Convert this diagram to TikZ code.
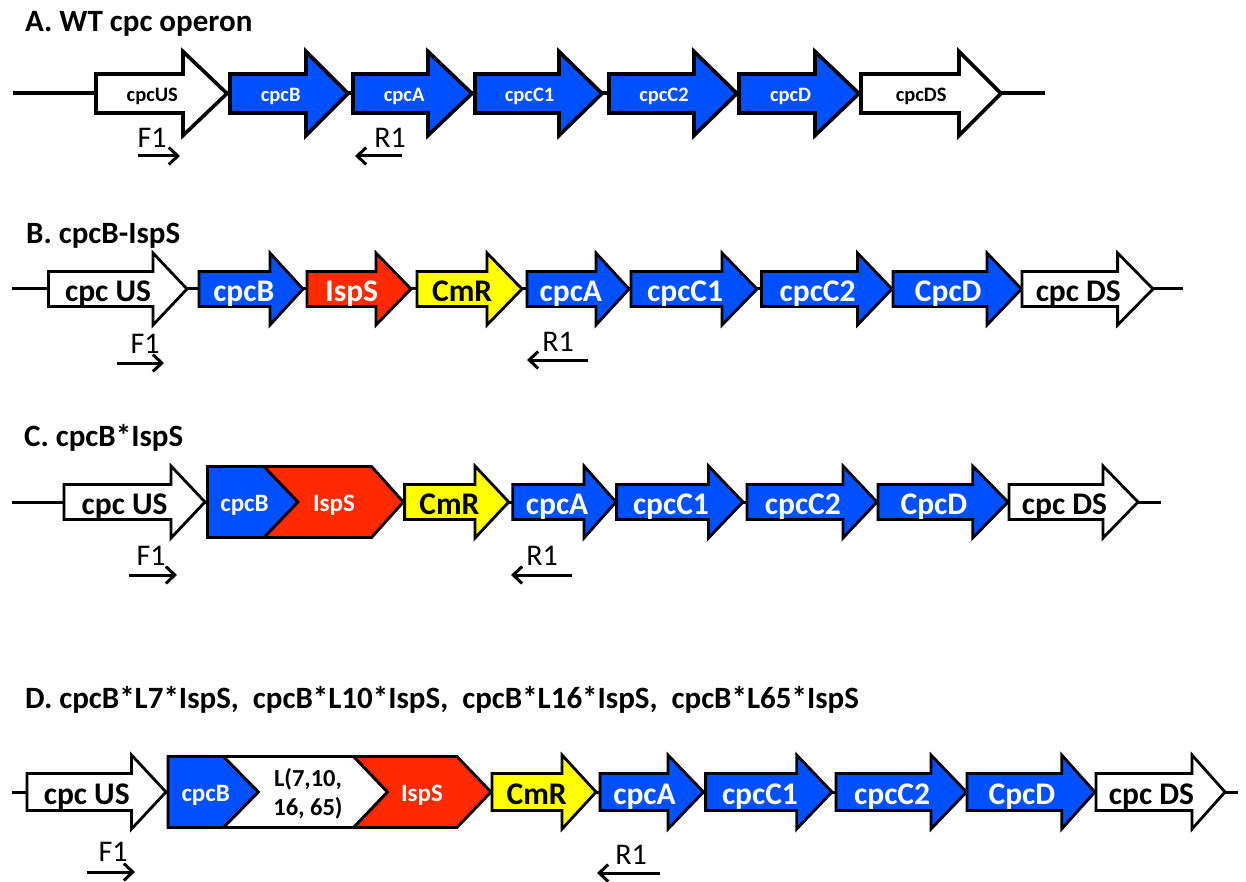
\documentclass[tikz,border=0pt]{standalone}
\usepackage{fontspec}
\setmainfont{Carlito}
\usetikzlibrary{arrows.meta}
\definecolor{gblue}{HTML}{0050FF}
\definecolor{gred}{HTML}{FF2A00}
\definecolor{gyellow}{HTML}{FFFF00}
\tikzset{
  outl/.style={draw=black, line width=2.8pt, line join=miter, miter limit=10},
  wfill/.style={outl, fill=white},
  bfill/.style={outl, fill=gblue},
  rfill/.style={outl, fill=gred},
  yfill/.style={outl, fill=gyellow},
  lab/.style={inner sep=0pt, anchor=base, font=\bfseries\fontsize{31.5}{33}\selectfont},
  labw/.style={lab, text=white},
  labk/.style={lab, text=black},
  slab/.style={inner sep=0pt, anchor=base, font=\bfseries\fontsize{25}{26}\selectfont},
  title/.style={anchor=base west, inner sep=0pt, font=\bfseries\fontsize{31}{33}\selectfont},
  primer/.style={inner sep=0pt, anchor=base, font=\fontsize{30}{32}\selectfont},
  parrow/.style={line width=3pt, -{Straight Barb[length=9pt,width=17pt,line width=3pt]}},
  backbone/.style={line width=3pt},
}
% #1 name, #2 left, #3 head start, #4 tip, #5 centre y, #6 fill style, #7 label style, #8 label
\newcommand\genearrow[8]{%
  \path[#6] (#2,#5-\bh) -- (#3,#5-\bh) -- (#3,#5-\hh) -- (#4,#5) -- (#3,#5+\hh)
     -- (#3,#5+\bh) -- (#2,#5+\bh) -- cycle;
  \node[#7] (#1) at ({(#2+#4)/2-0.07*(#4-#2)},{#5+\bo}) {#8};
}
\begin{document}
\begin{tikzpicture}[x=1pt,y=-1pt]
\useasboundingbox (0,0) rectangle (1246,882);

% ---------------- Row A ----------------
\node[title] (tA) at (25,31.7) {A. WT cpc operon};
\begin{scope}[outl/.append style={line width=3.6pt},
  lab/.append style={font=\bfseries\fontsize{20.5}{22}\selectfont}]
\def\bh{19.5}\def\hh{42}\def\bo{7.7}
\coordinate (a0) at (13,93.5);
\coordinate (a1) at (1045,93.5);
\draw[backbone, line width=4pt] (a0) -- (a1);
\genearrow{aUS}{96}{183}{227}{93.5}{wfill}{labk}{cpcUS}
\genearrow{aB}{230}{306}{348}{93.5}{bfill}{labw}{cpcB}
\genearrow{aA}{353}{428}{472}{93.5}{bfill}{labw}{cpcA}
\genearrow{aC1}{475}{559}{602}{93.5}{bfill}{labw}{cpcC1}
\genearrow{aC2}{609}{694}{737}{93.5}{bfill}{labw}{cpcC2}
\genearrow{aD}{739}{815}{859}{93.5}{bfill}{labw}{cpcD}
\genearrow{aDS}{861}{959}{1001}{93.5}{wfill}{labk}{cpcDS}
\end{scope}
\node[primer] (aF1) at (152,148) {F1};
\coordinate (aF1s) at (138,156);
\coordinate (aF1e) at (180,156);
\draw[parrow] (aF1s) -- (aF1e);
\node[primer] (aR1) at (390,148) {R1};
\coordinate (aR1s) at (402,156);
\coordinate (aR1e) at (355,156);
\draw[parrow] (aR1s) -- (aR1e);

% ---------------- Row B ----------------
\node[title] (tB) at (26,243.3) {B. cpcB-IspS};
\def\bh{17.5}\def\hh{36}\def\bo{12.5}
\coordinate (b0) at (12,289);
\coordinate (b1) at (1183,289);
\draw[backbone] (b0) -- (b1);
\genearrow{bUS}{48.5}{153}{187}{289}{wfill}{labk}{cpc US}
\genearrow{bB}{199}{270}{303}{289}{bfill}{labw}{cpcB}
\genearrow{bI}{307}{376}{411}{289}{rfill}{labw}{IspS}
\genearrow{bCm}{417}{487}{522}{289}{yfill}{labk}{CmR}
\genearrow{bA}{527}{596}{629}{289}{bfill}{labw}{cpcA}
\genearrow{bC1}{631}{722}{757}{289}{bfill}{labw}{cpcC1}
\genearrow{bC2}{761.5}{857.5}{892}{289}{bfill}{labw}{cpcC2}
\genearrow{bD}{893}{987}{1021.5}{289}{bfill}{labw}{CpcD}
\genearrow{bDS}{1022}{1117.6}{1153}{289}{wfill}{labk}{cpc DS}
\node[primer] (bF1) at (145,353) {F1};
\coordinate (bF1s) at (117,363);
\coordinate (bF1e) at (164,363);
\draw[parrow] (bF1s) -- (bF1e);
\node[primer] (bR1) at (558,351) {R1};
\coordinate (bR1s) at (588,360);
\coordinate (bR1e) at (527,360);
\draw[parrow] (bR1s) -- (bR1e);

% ---------------- Row C ----------------
\node[title] (tC) at (24,446.7) {C. cpcB*IspS};
\def\bh{17.5}\def\hh{36}\def\bo{12.5}
\coordinate (c0) at (12,502);
\coordinate (c1) at (1161,502);
\draw[backbone] (c0) -- (c1);
\genearrow{cUS}{64}{171}{205}{502}{wfill}{labk}{cpc US}
\path[bfill] (207.5,466.5) -- (264,466.5) -- (298,502) -- (264,537.5) -- (207.5,537.5) -- cycle;
\path[rfill] (264,466.5) -- (371.6,466.5) -- (403.4,502) -- (371.6,537.5) -- (264,537.5) -- (298,502) -- cycle;
\node[slab, text=white] (cB) at (244.5,511.7) {cpcB};
\node[slab, text=white] (cI) at (334,511.7) {IspS};
\genearrow{cCm}{404.6}{475}{508.7}{502}{yfill}{labk}{CmR}
\genearrow{cA}{512.7}{584}{616}{502}{bfill}{labw}{cpcA}
\genearrow{cC1}{616.6}{708.5}{743}{502}{bfill}{labw}{cpcC1}
\genearrow{cC2}{747}{843}{877}{502}{bfill}{labw}{cpcC2}
\genearrow{cD}{878}{972.7}{1008}{502}{bfill}{labw}{CpcD}
\genearrow{cDS}{1009}{1103}{1138}{502}{wfill}{labk}{cpc DS}
\node[primer] (cF1) at (151,565) {F1};
\coordinate (cF1s) at (129,575);
\coordinate (cF1e) at (177,575);
\draw[parrow] (cF1s) -- (cF1e);
\node[primer] (cR1) at (542,565) {R1};
\coordinate (cR1s) at (572,575);
\coordinate (cR1e) at (511,575);
\draw[parrow] (cR1s) -- (cR1e);

% ---------------- Row D ----------------
\node[title] (tD) at (25,708.3) {D. cpcB*L7*IspS,\ \ cpcB*L10*IspS,\ \ cpcB*L16*IspS,\ \ cpcB*L65*IspS};
\def\bh{18.5}\def\hh{37}\def\bo{12}
\coordinate (d0) at (12,792);
\coordinate (d1) at (1238,792);
\draw[backbone] (d0) -- (d1);
\genearrow{dUS}{27}{131.5}{166}{792}{wfill}{labk}{cpc US}
\path[bfill] (168,756.5) -- (223.5,756.5) -- (258.5,792) -- (223.5,827.5) -- (168,827.5) -- cycle;
\path[wfill] (223.5,756.5) -- (353.7,756.5) -- (387.5,792) -- (353.7,827.5) -- (223.5,827.5) -- (258.5,792) -- cycle;
\path[rfill] (353.7,756.5) -- (457,756.5) -- (491,792) -- (457,827.5) -- (353.7,827.5) -- (387.5,792) -- cycle;
\node[slab, text=white] (dB) at (205.7,801.7) {cpcB};
\node[slab, text=black, font=\bfseries\fontsize{24.5}{26}\selectfont] (dL1) at (308,786.7) {L(7,10,};
\node[slab, text=black, font=\bfseries\fontsize{24.5}{26}\selectfont] (dL2) at (308,815) {16, 65)};
\node[slab, text=white] (dI) at (422,801.7) {IspS};
\genearrow{dCm}{492}{562}{596}{792}{yfill}{labk}{CmR}
\genearrow{dA}{600}{668}{703.5}{792}{bfill}{labw}{cpcA}
\genearrow{dC1}{705.6}{796.7}{832}{792}{bfill}{labw}{cpcC1}
\genearrow{dC2}{836}{931}{966.5}{792}{bfill}{labw}{cpcC2}
\genearrow{dD}{967}{1061.7}{1094.8}{792}{bfill}{labw}{CpcD}
\genearrow{dDS}{1096}{1192}{1225}{792}{wfill}{labk}{cpc DS}
\node[primer] (dF1) at (113,861) {F1};
\coordinate (dF1s) at (87,872);
\coordinate (dF1e) at (135,872);
\draw[parrow] (dF1s) -- (dF1e);
\node[primer] (dR1) at (631,864) {R1};
\coordinate (dR1s) at (660,873);
\coordinate (dR1e) at (597,873);
\draw[parrow] (dR1s) -- (dR1e);
\end{tikzpicture}
\end{document}
